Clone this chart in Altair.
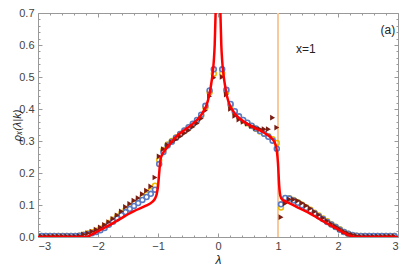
import altair as alt
import pandas as pd

# ---- data ----
lam = [-2.94, -2.87, -2.80, -2.73, -2.66, -2.59, -2.52, -2.45, -2.38, -2.31,
       -2.24, -2.17, -2.10, -2.03, -1.96, -1.89, -1.82, -1.75, -1.68, -1.61,
       -1.54, -1.47, -1.40, -1.33, -1.26, -1.19, -1.12, -1.05, -0.98, -0.91,
       -0.84, -0.77, -0.70, -0.63, -0.56, -0.49, -0.42, -0.35, -0.28, -0.21,
       -0.14, -0.07, 0.00, 0.07, 0.14, 0.21, 0.28, 0.35, 0.42, 0.49,
       0.56, 0.63, 0.70, 0.77, 0.84, 0.91, 0.98, 1.05, 1.12, 1.19,
       1.26, 1.33, 1.40, 1.47, 1.54, 1.61, 1.68, 1.75, 1.82, 1.89,
       1.96, 2.03, 2.10, 2.17, 2.24, 2.31, 2.38, 2.45, 2.52, 2.59,
       2.66, 2.73, 2.80, 2.87, 2.94]

rho_blue = [0.003, 0.003, 0.003, 0.003, 0.003, 0.003, 0.003, 0.003, 0.003, 0.004,
            0.006, 0.009, 0.012, 0.016, 0.021, 0.028, 0.038, 0.048, 0.058, 0.068,
            0.078, 0.088, 0.097, 0.106, 0.116, 0.125, 0.135, 0.148, 0.228, 0.266,
            0.286, 0.298, 0.310, 0.322, 0.333, 0.343, 0.354, 0.366, 0.382, 0.410,
            0.458, 0.524, None, 0.524, 0.460, 0.416, 0.393, 0.377, 0.366, 0.357,
            0.348, 0.339, 0.331, 0.323, 0.313, 0.301, 0.276, 0.102, 0.122, 0.120,
            0.114, 0.107, 0.099, 0.091, 0.083, 0.074, 0.065, 0.056, 0.047, 0.039,
            0.031, 0.023, 0.016, 0.010, 0.006, 0.004, 0.003, 0.003, 0.003, 0.003,
            0.003, 0.003, 0.003, 0.003, 0.003]

rho_gold = [0.003, 0.003, 0.003, 0.003, 0.003, 0.003, 0.003, 0.003, 0.003, 0.004,
            0.007, 0.011, 0.015, 0.020, 0.026, 0.034, 0.044, 0.054, 0.064, 0.075,
            0.085, 0.095, 0.105, 0.114, 0.124, 0.133, 0.144, 0.160, 0.240, 0.272,
            0.289, 0.300, 0.311, 0.322, 0.332, 0.342, 0.352, 0.363, 0.379, 0.405,
            0.452, 0.510, None, 0.512, 0.455, 0.412, 0.390, 0.375, 0.364, 0.355,
            0.347, 0.338, 0.330, 0.323, 0.315, 0.306, 0.294, 0.092, 0.118, 0.121,
            0.116, 0.109, 0.101, 0.093, 0.085, 0.076, 0.067, 0.058, 0.049, 0.040,
            0.032, 0.024, 0.016, 0.010, 0.006, 0.004, 0.003, 0.003, 0.003, 0.003,
            0.003, 0.003, 0.003, 0.003, 0.003]

rho_tri = [0.002, 0.002, 0.002, 0.002, 0.002, 0.002, 0.002, 0.002, 0.002, 0.004,
           0.008, 0.012, 0.017, 0.023, 0.030, 0.038, 0.047, 0.057, 0.068, 0.080,
           0.094, 0.104, 0.114, 0.122, 0.134, 0.145, 0.158, 0.186, 0.252, 0.275,
           0.287, 0.296, 0.305, 0.314, 0.324, 0.333, 0.344, 0.355, 0.370, 0.395,
           0.440, 0.498, None, 0.500, 0.445, 0.400, 0.378, 0.367, 0.360, 0.354,
           0.347, 0.341, 0.337, 0.337, 0.337, 0.373, 0.342, 0.062, 0.105, 0.118,
           0.117, 0.113, 0.106, 0.098, 0.089, 0.079, 0.069, 0.059, 0.050, 0.041,
           0.033, 0.025, 0.017, 0.011, 0.007, 0.004, 0.002, 0.002, 0.002, 0.002,
           0.002, 0.002, 0.002, 0.002, 0.002]

red_lam = [-3.0, -2.2, -2.1, -2.0, -1.8, -1.6, -1.5, -1.4, -1.2, -1.1,
           -1.05, -1.02, -1.0, -0.98, -0.96, -0.93, -0.9, -0.85, -0.7, -0.5,
           -0.4, -0.3, -0.25, -0.2, -0.15, -0.12, -0.09, -0.07, -0.055, -0.04,
           -0.03, -0.02, -0.01, 0.0, 0.01, 0.02, 0.03, 0.04, 0.055, 0.07,
           0.09, 0.12, 0.15, 0.2, 0.25, 0.3, 0.4, 0.5, 0.6, 0.7,
           0.8, 0.88, 0.93, 0.96, 0.98, 1.0, 1.02, 1.04, 1.07, 1.13,
           1.3, 1.5, 1.7, 1.9, 2.0, 2.1, 2.2, 2.3, 3.0]
red_rho = [0.0, 0.0, 0.008, 0.018, 0.038, 0.06, 0.071, 0.081, 0.098, 0.109,
           0.12, 0.135, 0.158, 0.2, 0.24, 0.258, 0.267, 0.279, 0.313, 0.342,
           0.357, 0.376, 0.39, 0.408, 0.44, 0.47, 0.51, 0.55, 0.6, 0.7,
           0.78, 0.88, 1.0, 1.2, 1.0, 0.88, 0.78, 0.7, 0.6, 0.55,
           0.51, 0.47, 0.44, 0.41, 0.394, 0.381, 0.365, 0.352, 0.342, 0.333,
           0.322, 0.311, 0.3, 0.288, 0.27, 0.23, 0.16, 0.128, 0.117, 0.111,
           0.095, 0.077, 0.055, 0.034, 0.024, 0.013, 0.004, 0.0, 0.0]

x_major = [-3, -2, -1, 0, 1, 2, 3]
x_minor = [-2.8, -2.6, -2.4, -2.2, -1.8, -1.6, -1.4, -1.2, -0.8, -0.6, -0.4, -0.2,
           0.2, 0.4, 0.6, 0.8, 1.2, 1.4, 1.6, 1.8, 2.2, 2.4, 2.6, 2.8]
y_major = [0.0, 0.1, 0.2, 0.3, 0.4, 0.5, 0.6, 0.7]
y_minor = [0.02, 0.04, 0.06, 0.08, 0.12, 0.14, 0.16, 0.18, 0.22, 0.24, 0.26, 0.28,
           0.32, 0.34, 0.36, 0.38, 0.42, 0.44, 0.46, 0.48, 0.52, 0.54, 0.56, 0.58,
           0.62, 0.64, 0.66, 0.68]

vline_x = [1]
labels_text = ["x=1", "(a)"]
labels_x = [1.30, 2.71]
labels_y = [0.588, 0.648]

# ---- styles ----
BLUE = "#5a7bc2"
GOLD = "#f0b800"
BROWN = "#7a1d12"
RED = "#ff0000"
VLINE = "#f9c99a"
TICK = "#999999"
LABEL = "#444444"

pts = pd.DataFrame({"lam": lam, "blue": rho_blue, "gold": rho_gold, "tri": rho_tri})
red = pd.DataFrame({"lam": red_lam, "rho": red_rho})

xs = alt.Scale(domain=[-3, 3], nice=False)
ys = alt.Scale(domain=[0, 0.7], nice=False)

common_ax = dict(grid=False, domain=False, tickColor=TICK, tickWidth=1,
                 labelColor=LABEL, labelFont="Liberation Sans", labelFontSize=11,
                 titleColor="#222222", titleFont="Liberation Sans",
                 titleFontSize=12, titleFontWeight="normal")


def mk_axis(orient, values, size, labels, title=None, fmt=None, **extra):
    kw = dict(common_ax)
    kw.update(orient=orient, values=values, tickSize=size, offset=-size,
              labels=labels, title=title)
    if fmt:
        kw["format"] = fmt
    kw.update(extra)
    return alt.Axis(**kw)


base = alt.Chart(pts)

gold = base.mark_point(shape="circle", filled=False, stroke=GOLD, strokeWidth=1.5,
                       size=24, opacity=1, clip=True).encode(
    x=alt.X("lam:Q", scale=xs,
            axis=mk_axis("bottom", x_major, 4, True, "λ", "d",
                         labelPadding=3, titleFontStyle="italic", titlePadding=3)),
    y=alt.Y("gold:Q", scale=ys,
            axis=mk_axis("left", y_major, 4, True, "ρₓ(λ|k)", ".1f",
                         labelPadding=4, titleFontStyle="italic", titleX=-20,
                         titleFontSize=11)),
)

blue = base.mark_point(shape="circle", filled=True, fill="white", stroke=BLUE,
                       strokeWidth=1.6, size=24, opacity=1, clip=True).encode(
    x=alt.X("lam:Q", scale=xs, axis=mk_axis("top", x_major, 4, False)),
    y=alt.Y("blue:Q", scale=ys, axis=mk_axis("right", y_major, 4, False)),
)

tri = base.mark_point(shape="triangle-right", filled=True, color=BROWN,
                      size=32, opacity=1, clip=True).encode(
    x=alt.X("lam:Q", scale=xs, axis=mk_axis("bottom", x_minor, 2, False)),
    y=alt.Y("tri:Q", scale=ys, axis=mk_axis("left", y_minor, 2, False)),
)

redline = alt.Chart(red).mark_line(color=RED, strokeWidth=2.5, clip=True,
                                   interpolate="monotone").encode(
    x=alt.X("lam:Q", scale=xs, axis=mk_axis("top", x_minor, 2, False)),
    y=alt.Y("rho:Q", scale=ys, axis=mk_axis("right", y_minor, 2, False)),
)

vline = alt.Chart(pd.DataFrame({"x": vline_x})).mark_rule(
    color=VLINE, strokeWidth=2).encode(x=alt.X("x:Q", scale=xs, axis=None))

txt = alt.Chart(pd.DataFrame({"x": labels_x, "y": labels_y, "t": labels_text})).mark_text(
    font="Liberation Sans", fontSize=12, color="#222222", align="left",
    baseline="middle").encode(
    x=alt.X("x:Q", scale=xs, axis=None),
    y=alt.Y("y:Q", scale=ys, axis=None),
    text="t:N",
)

chart = alt.layer(vline, gold, blue, tri, redline, txt).resolve_axis(
    x="independent", y="independent"
).properties(
    width=360, height=224,
    autosize=alt.AutoSizeParams(type="none"),
    padding={"left": 30, "top": 5, "right": 3, "bottom": 28},
).configure_view(stroke="#999999", strokeWidth=1)

chart.save("out.html", embed_options={"renderer": "svg", "actions": False})
